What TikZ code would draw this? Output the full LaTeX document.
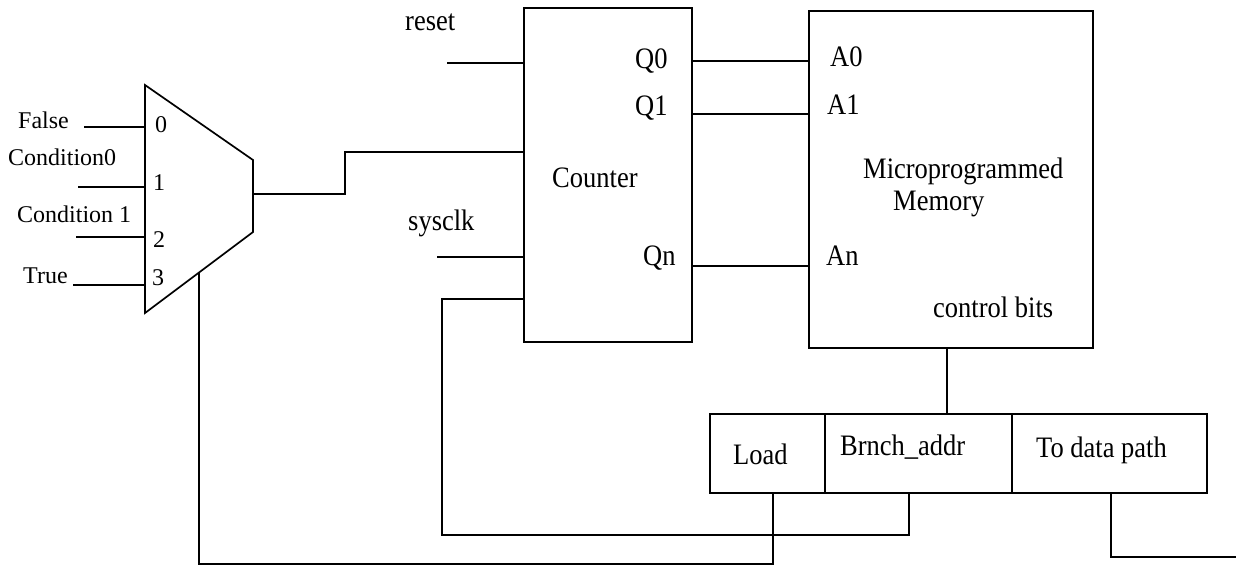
\documentclass[tikz,border=0pt]{standalone}
\usepackage{fontspec}
\setmainfont{Liberation Serif}
\newcommand{\tallt}[1]{\scalebox{1}[1.12]{#1}}
\begin{document}
\begin{tikzpicture}[x=1pt,y=-1pt,
  wire/.style={line width=1.7pt},
  box/.style={draw,line width=1.7pt,rectangle,inner sep=0pt},
  lbl/.style={anchor=base west,inner sep=0pt,font=\fontsize{26.5}{30}\selectfont},
  mlbl/.style={anchor=base west,inner sep=0pt,font=\fontsize{24}{28}\selectfont}]
\useasboundingbox (0,0) rectangle (1236,565);
% boxes
\node[box,minimum width=168pt,minimum height=334pt] (counter) at (608,175) {};
\node[box,minimum width=284pt,minimum height=337pt] (mem) at (951,179.5) {};
\node[box,minimum width=115pt,minimum height=79pt] (load) at (767.5,453.5) {};
\node[box,minimum width=187pt,minimum height=79pt] (brnch) at (918.5,453.5) {};
\node[box,minimum width=195pt,minimum height=79pt] (todata) at (1109.5,453.5) {};
% mux
\coordinate (mtl) at (145,85);
\coordinate (mtr) at (253,160);
\coordinate (mbr) at (253,232);
\coordinate (mbl) at (145,313);
\draw[wire,line join=miter] (mtl) -- (mtr) -- (mbr) -- (mbl) -- cycle;
\coordinate (mout) at (253,194);
\coordinate (msel) at (199,272.5);
% labels
\node[mlbl] (lfalse) at (18,128) {False};
\node[mlbl] (lc0) at (8,165) {Condition0};
\node[mlbl] (lc1) at (17,222) {Condition 1};
\node[mlbl] (ltrue) at (23,283) {True};
\node[mlbl] (n0) at (155,132) {0};
\node[mlbl] (n1) at (153,190) {1};
\node[mlbl] (n2) at (153,247) {2};
\node[mlbl] (n3) at (152,285) {3};
\node[lbl] (lreset) at (405,30) {\tallt{reset}};
\node[lbl] (lsysclk) at (408,230) {\tallt{sysclk}};
\node[lbl] (lcounter) at (552,187) {\tallt{Counter}};
\node[lbl] (lq0) at (635,68) {\tallt{Q0}};
\node[lbl] (lq1) at (635,115) {\tallt{Q1}};
\node[lbl] (lqn) at (643,265) {\tallt{Qn}};
\node[lbl] (la0) at (830,66) {\tallt{A0}};
\node[lbl] (la1) at (827,114) {\tallt{A1}};
\node[lbl] (lan) at (826,265) {\tallt{An}};
\node[lbl] (lmicro) at (863,178) {\tallt{Microprogrammed}};
\node[lbl] (lmemory) at (893,210) {\tallt{Memory}};
\node[lbl] (lctrl) at (933,317) {\tallt{control bits}};
\node[lbl] (lload) at (733,464) {\tallt{Load}};
\node[lbl] (lbrnch) at (840,455) {\tallt{Brnch\_addr}};
\node[lbl] (ltodata) at (1036,457) {\tallt{To data path}};
% input wire ends
\coordinate (ifalse) at (84,127);
\coordinate (ic0) at (78,187);
\coordinate (ic1) at (76,237);
\coordinate (itrue) at (73,285);
\coordinate (ireset) at (447,63);
\coordinate (isysclk) at (437,257);
\coordinate (odata) at (1236,557);
% wires
\draw[wire] (ifalse) -- (ifalse -| mtl);
\draw[wire] (ic0) -- (ic0 -| mtl);
\draw[wire] (ic1) -- (ic1 -| mtl);
\draw[wire] (itrue) -- (itrue -| mtl);
\draw[wire] (mout) -- (345,194) -- (345,152) -- (counter.west |- 0,152);
\draw[wire] (ireset) -- (ireset -| counter.west);
\draw[wire] (isysclk) -- (isysclk -| counter.west);
\draw[wire] (counter.east |- 0,61) -- (mem.west |- 0,61);
\draw[wire] (counter.east |- 0,114) -- (mem.west |- 0,114);
\draw[wire] (counter.east |- 0,266) -- (mem.west |- 0,266);
\draw[wire] (mem.south -| 947,0) -- (brnch.north -| 947,0);
\draw[wire] (counter.west |- 0,299) -- (442,299) -- (442,535) -- (909,535) -- (brnch.south -| 909,0);
\draw[wire] (load.south -| 773,0) -- (773,564) -- (199,564) -- (msel);
\draw[wire] (todata.south -| 1111,0) -- (1111,557) -- (odata);
\end{tikzpicture}
\end{document}
